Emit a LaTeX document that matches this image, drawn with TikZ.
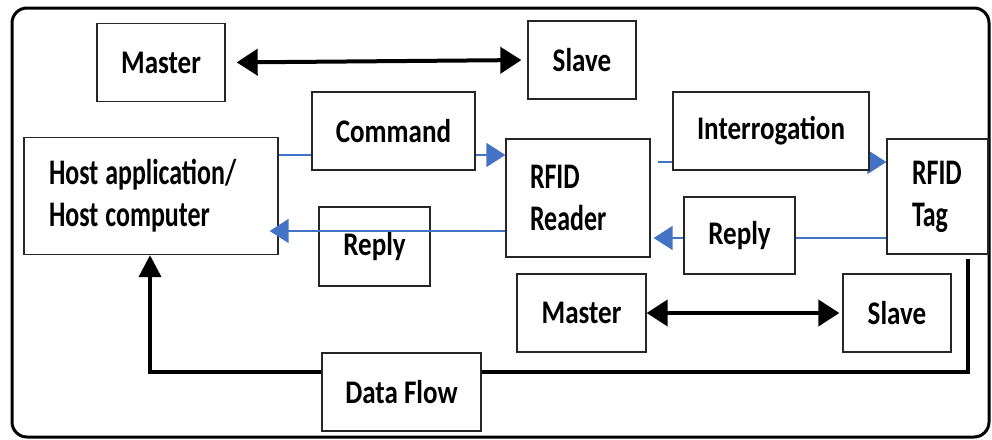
\documentclass[tikz,border=0pt]{standalone}
\usepackage{fontspec}
\setmainfont{Carlito}[FakeStretch=0.82]
\newfontfamily\mlfont{Carlito}[FakeStretch=0.72]
\newcommand{\wsp}{\hspace{7pt}}
\usetikzlibrary{arrows.meta}
\definecolor{officeblue}{RGB}{68,114,196}
\begin{document}
\begin{tikzpicture}[x=1pt,y=-1pt,
  box/.style={draw=black!85, line width=1.3pt, fill=white, inner sep=0pt,
    font=\fontsize{33}{39}\selectfont\bfseries},
  lbox/.style={box, align=left, font=\mlfont\fontsize{36}{42}\selectfont\bfseries},
  bluearrow/.style={draw=officeblue, line width=1.6pt, -{Triangle[length=19pt,width=24pt]}},
  blackarrow/.style={draw=black, line width=4pt, -{Triangle[length=22pt,width=22pt]}},
  blackboth/.style={draw=black, line width=4pt, {Triangle[length=21pt,width=26pt]}-{Triangle[length=21pt,width=26pt]}}
]
\useasboundingbox (0,0) rectangle (992,439);
\draw[line width=3pt, rounded corners=15pt] (12,8) rectangle (989,437);

% boxes
\node[box, minimum width=128pt, minimum height=78pt] (mtop) at (161,62.5) {Master};
\node[box, minimum width=108pt, minimum height=78pt] (stop) at (582,60) {Slave};
\node[box, minimum width=163pt, minimum height=78pt] (cmd) at (393.5,131) {Command};
\node[box, minimum width=196pt, minimum height=78pt] (inter) at (771,131) {Interrogation};
\node[lbox, text width=204pt, inner xsep=25pt, minimum height=117pt] (host) at (151,196) {Host\wsp application/\\Host\wsp computer};
\node[lbox, text width=96pt, inner xsep=24pt, minimum height=118pt] (reader) at (578,198) {RFID\\Reader};
\node[lbox, text width=51pt, inner xsep=25pt, minimum height=115pt] (tag) at (937.5,196.5) {RFID\\Tag};
\node[box, minimum width=111pt, minimum height=79pt] (reply1) at (374.5,246.5) {Reply};
\node[box, minimum width=111pt, minimum height=77pt] (reply2) at (739.5,235.5) {Reply};
\node[box, minimum width=129pt, minimum height=78pt] (mbot) at (581.5,313) {Master};
\node[box, minimum width=108pt, minimum height=78pt] (sbot) at (897,313) {Slave};

% coordinates for connectors
\coordinate (yc) at (0,155);
\coordinate (yi) at (0,162);
\coordinate (yr2) at (0,238);
\coordinate (yr1) at (0,231);
\coordinate (tagfoot) at (968,259);
\coordinate (corner) at (150,372);

% connectors behind boxes
\draw[bluearrow] (host.east |- yc) -- (reader.west |- yc);
\draw[bluearrow, shorten <=7pt] (reader.east |- yi) -- (tag.west |- yi);
\draw[bluearrow, shorten >=3pt] (tag.west |- yr2) -- (reader.east |- yr2);
\draw[blackarrow] (tagfoot) |- (corner) -- (host.south -| corner);

% redraw boxes over lines
\node[box, minimum width=163pt, minimum height=78pt] at (cmd) {Command};
\node[box, minimum width=196pt, minimum height=78pt] at (inter) {Interrogation};
\node[box, minimum width=111pt, minimum height=77pt] at (reply2) {Reply};
\node[box, minimum width=159pt, minimum height=78pt] (data) at (401.5,392) {Data Flow};

% connectors in front
\draw[bluearrow, shorten >=-9pt] (reader.west |- yr1) -- (host.east |- yr1);
\draw[blackboth, shorten <=11pt, shorten >=6pt] (mtop.east) -- (stop.west);
\draw[blackboth, shorten >=3pt] (mbot.east) -- (sbot.west);
\end{tikzpicture}
\end{document}
